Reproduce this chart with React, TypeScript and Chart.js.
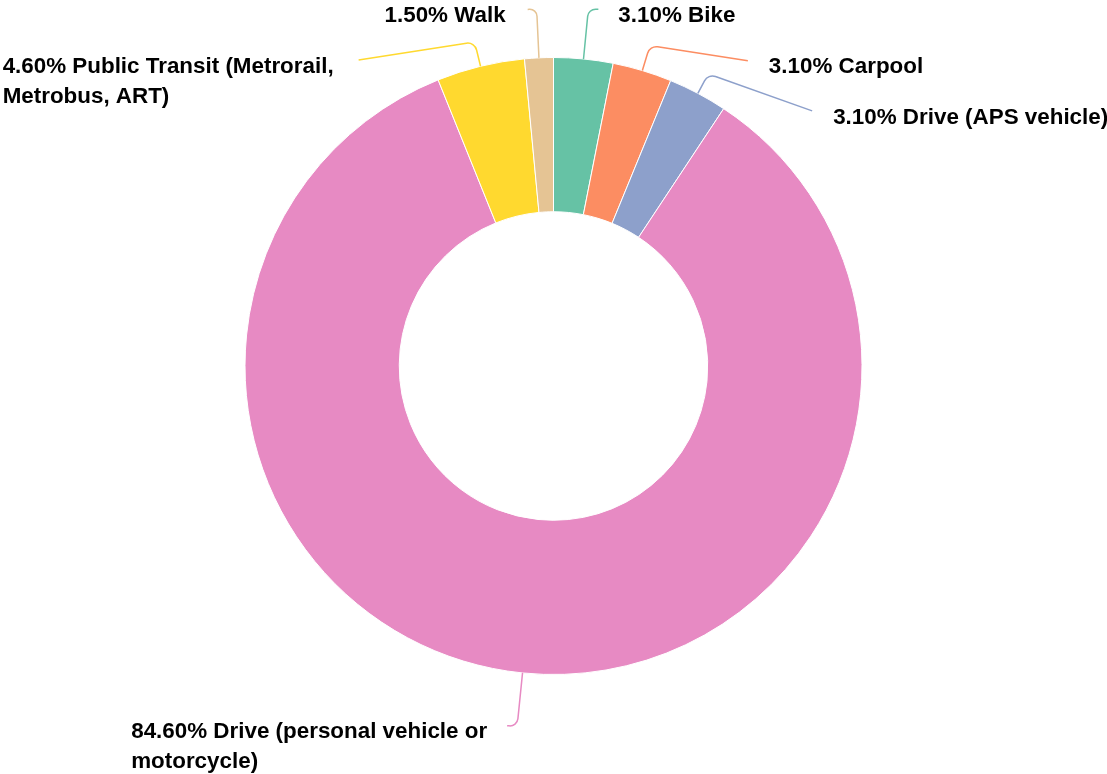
import React, { useEffect, useRef } from "react";
import { Chart, registerables } from "chart.js";

Chart.register(...registerables);

const categories = [
  "Bike",
  "Carpool",
  "Drive (APS vehicle)",
  "Drive (personal vehicle or motorcycle)",
  "Public Transit (Metrorail, Metrobus, ART)",
  "Walk",
];
const percentages = [3.1, 3.1, 3.1, 84.6, 4.6, 1.5];
const colors = ["#66c2a5", "#fc8d62", "#8da0cb", "#e78ac3", "#ffd92f", "#e5c494"];

// label layout: extra radius for the leader-line corner, offset from corner to line end, gap to text
const cornerExtra = [50, 26, 22, 54, 25, 49];
const endOffsetX = [10, 98, 104, -10, -116, -9];
const endOffsetY = [0, 15, 37, -1, 18, 0.5];
const labelGap = [20, 21, 21, 20, 25, 22];

const FONT = "bold 22.4px Arial, 'Liberation Sans', Helvetica, sans-serif";
const LINE_H = 30;
const WRAP_W = 385;

function wrap(ctx: CanvasRenderingContext2D, text: string, maxW: number): string[] {
  const words = text.split(" ");
  const lines: string[] = [];
  let cur = "";
  for (const w of words) {
    const t = cur ? cur + " " + w : w;
    if (ctx.measureText(t).width > maxW && cur) {
      lines.push(cur);
      cur = w;
    } else cur = t;
  }
  if (cur) lines.push(cur);
  return lines;
}

const labelPlugin = {
  id: "leaderLabels",
  afterDraw(chart: any) {
    const ctx: CanvasRenderingContext2D = chart.ctx;
    const meta = chart.getDatasetMeta(0);
    ctx.save();
    ctx.font = FONT;
    meta.data.forEach((arc: any, i: number) => {
      const a = (arc.startAngle + arc.endAngle) / 2;
      const R = arc.outerRadius;
      const cx = arc.x, cy = arc.y;
      const p0x = cx + Math.cos(a) * R, p0y = cy + Math.sin(a) * R;
      const rc = R + cornerExtra[i];
      const cX = cx + Math.cos(a) * rc, cY = cy + Math.sin(a) * rc;
      const ex = cX + endOffsetX[i], ey = cY + endOffsetY[i];
      ctx.strokeStyle = colors[i];
      ctx.lineWidth = 1.5;
      ctx.beginPath();
      ctx.moveTo(p0x, p0y);
      const seg = Math.hypot(ex - cX, ey - cY);
      ctx.arcTo(cX, cY, ex, ey, Math.min(9, seg * 0.8));
      ctx.lineTo(ex, ey);
      ctx.stroke();

      const text = percentages[i].toFixed(2) + "% " + categories[i];
      const lines = wrap(ctx, text, WRAP_W);
      const blockW = Math.max(...lines.map((l) => ctx.measureText(l).width));
      const right = endOffsetX[i] > 0;
      const left = right ? ex + labelGap[i] : ex - labelGap[i] - blockW;
      ctx.fillStyle = "#000";
      ctx.textAlign = "left";
      ctx.textBaseline = "middle";
      lines.forEach((l, k) => {
        ctx.fillText(l, left, ey + 6.5 + k * LINE_H);
      });
    });
    ctx.restore();
  },
};

export default function App() {
  const ref = useRef<HTMLCanvasElement>(null);
  useEffect(() => {
    document.body.style.margin = "0";
    const chart = new Chart(ref.current!, {
      type: "doughnut",
      data: {
        labels: categories,
        datasets: [
          {
            data: percentages,
            backgroundColor: colors,
            borderColor: "#ffffff",
            borderWidth: 1,
          },
        ],
      },
      options: {
        responsive: false,
        animation: false,
        devicePixelRatio: 1,
        cutout: "50%",
        layout: { padding: { top: 57, bottom: 99, left: 0, right: 0 } },
        plugins: { legend: { display: false }, tooltip: { enabled: false } },
      },
      plugins: [labelPlugin],
    });
    return () => chart.destroy();
  }, []);
  return (
    <div style={{ width: 1107, height: 774, background: "#fff" }}>
      <canvas ref={ref} width={1107} height={774} />
    </div>
  );
}
